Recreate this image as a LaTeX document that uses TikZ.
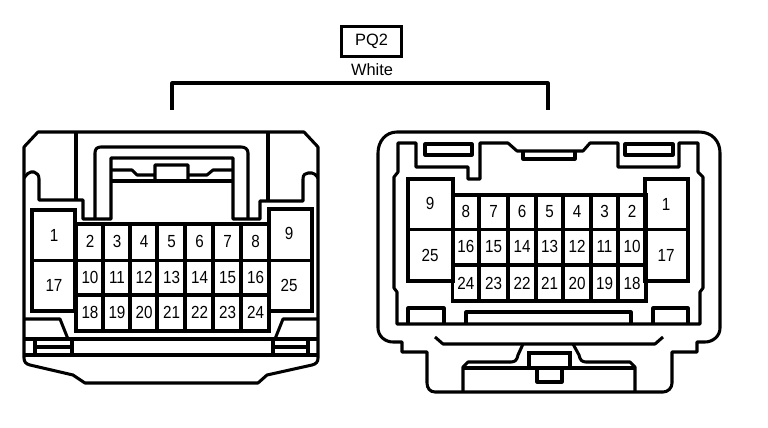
\documentclass[tikz,border=0pt]{standalone}
\usepackage{fontspec}
\setmainfont{Liberation Sans}
\newcommand{\tallnum}[1]{\scalebox{1}[1.15]{#1}}
\tikzset{
    wall/.style={line width=2.6pt, line join=round},
    cavity/.style={line width=2.6pt},
    pinnum/.style={font=\fontsize{13}{13}\selectfont, inner sep=0pt, text height=10.8pt, text depth=0.2pt}
}
\begin{document}
\begin{tikzpicture}[x=0.03cm, y=-0.03cm]
    \useasboundingbox (0,0) rectangle (768,428);

    % Title
    \node[draw, line width=2.6pt, minimum width=51pt, minimum height=25.5pt, inner sep=0pt, font=\fontsize{14}{14}\selectfont] (boxPQ) at (371.5,41.5) {PQ2};
    \node[font=\fontsize{14}{14}\selectfont, inner sep=0pt] (lblWhite) at (372,69.5) {White};
    \draw[wall] (172,110) -- (172,83) -- (548,83) -- (548,110);

    % Left connector: outline
    \draw[wall] (38,132) -- (304,132) -- (318,147) -- (318,358) .. controls (318,362) and (316,364) .. (312,365)
        -- (267,375) -- (258,383) -- (85,383) -- (73,375) -- (30,365) .. controls (26,364) and (24,362) .. (24,358) -- (24,147) -- cycle;
    \draw[wall] (24,339) -- (318,339);
    \draw[wall] (24,355) -- (318,355);
    % Left connector: side latches
    \draw[wall] (35,339) -- (35,355) (72,339) -- (72,355) (35,347) -- (72,347);
    \draw[wall] (273,339) -- (273,355) (308,339) -- (308,355) (273,347) -- (308,347);
    \draw[wall] (24,319) -- (60,319) -- (68,339);
    \draw[wall] (318,319) -- (283,319) -- (275,339);
    % Left connector: hood
    \draw[wall] (24,178) .. controls (27,174) and (29,172) .. (31,172) -- (34,172) .. controls (37,173) and (39,175) .. (39,179) -- (39,200) -- (83,200) -- (83,219) -- (111,219) -- (111,158) -- (233,158) -- (233,219) -- (260,219) -- (260,201) -- (303,201) -- (303,179) .. controls (303,175) and (305,173) .. (308,173) -- (312,173) .. controls (314,173) and (316,175) .. (318,178);
    \draw[wall] (76,132) -- (76,200);
    \draw[wall] (268,132) -- (268,201);
    \draw[wall] (95,219) -- (95,153) .. controls (95,149) and (97,147) .. (101,147) -- (241,147) .. controls (245,147) and (248,149) .. (248,153) -- (248,219);
    \draw[wall] (111,170) -- (132,170) -- (137,175) -- (155,175) (155,181) -- (155,165) -- (188,165) -- (188,181);
    \draw[wall] (233,170) -- (213,170) -- (207,175) -- (188,175);
    \draw[wall] (111,181) -- (233,181);

    % Left connector: cavities
    \draw[cavity] (32,210) rectangle (75,260.5) (32,260.5) rectangle (75,311);
    \draw[cavity] (269,209) rectangle (312,260.5) (269,260.5) rectangle (312,311);
    \foreach \xa/\xb/\top/\mid/\low in {76/103/2/10/18,103/130/3/11/19,130/157/4/12/20,157/185/5/13/21,185/213/6/14/22,213/241/7/15/23,241/269/8/16/24} {
        \draw[cavity] (\xa,224) rectangle (\xb,260.5) (\xa,260.5) rectangle (\xb,295) (\xa,295) rectangle (\xb,331);
        \node[pinnum] (L\top) at ({(\xa+\xb)/2+0.5},241) {\tallnum{\top}};
        \node[pinnum] (L\mid) at ({(\xa+\xb)/2+0.5},277) {\tallnum{\mid}};
        \node[pinnum] (L\low) at ({(\xa+\xb)/2+0.5},312.5) {\tallnum{\low}};
    }
    \node[pinnum] (L1) at (54,235) {\tallnum{1}};
    \node[pinnum] (L17) at (54,285) {\tallnum{17}};
    \node[pinnum] (L9) at (289,233) {\tallnum{9}};
    \node[pinnum] (L25) at (289,285) {\tallnum{25}};

    % Right connector: outline
    \draw[wall] (397,132) -- (699,132) .. controls (712,132) and (720,141) .. (720,153) -- (720,328) .. controls (720,336) and (713,342) .. (705,342)
        -- (697,342) -- (697,352) -- (672,352) -- (672,383) .. controls (672,388) and (668,392) .. (663,392) -- (435,392) .. controls (430,392) and (427,388) .. (427,383) -- (427,352) -- (402,352) -- (402,342) -- (393,342) .. controls (385,342) and (378,336) .. (378,328) -- (378,153) .. controls (378,141) and (386,132) .. (397,132) -- cycle;
    % Right connector: inner wall
    \draw[wall] (416,143) -- (398,143) -- (398,172) -- (394,177) -- (394,288) -- (397,292) -- (397,324) -- (700,324) -- (700,292) -- (703,288) -- (703,177) -- (698,172) -- (698,143) -- (679,143) -- (679,167) -- (618,167) -- (618,143) -- (590,143) -- (583,151) -- (517,151) -- (508,143) -- (480,143) -- (480,179) -- (468,179) -- (468,167) -- (416,167) -- cycle;
    \draw[wall] (425,144) rectangle (472,155);
    \draw[wall] (625,144) rectangle (673,155);
    \draw[wall] (523,151) -- (523,159) -- (575,159) -- (575,151);
    % Right connector: bottom details
    \draw[wall] (408,324) -- (408,308) -- (444,308) -- (444,324);
    \draw[wall] (653,324) -- (653,308) -- (688,308) -- (688,324);
    \draw[wall] (466,324) -- (466,312) -- (631,312) -- (631,324);
    \draw[wall] (435,337) -- (443,344) -- (655,344) -- (663,337);
    \draw[wall] (523,344) -- (518,355) .. controls (517,360) and (515,362) .. (511,362) -- (468,362) -- (463,367) -- (463,392);
    \draw[wall] (573,344) -- (579,355) .. controls (580,360) and (582,362) .. (586,362) -- (630,362) -- (635,367) -- (635,392);
    \draw[wall] (463,368) -- (635,368);
    \draw[wall] (527,353) -- (572,353) (529,353) -- (529,368) (570,353) -- (570,368);
    \draw[wall] (537,368) -- (537,382) -- (562,382) -- (562,368);

    % Right connector: cavities
    \draw[cavity] (408,179) rectangle (453,229.5) (408,229.5) rectangle (453,281);
    \draw[cavity] (645,179) rectangle (688,229.5) (645,229.5) rectangle (688,281);
    \foreach \xa/\xb/\top/\mid/\low in {452.5/479/8/16/24,479/508/7/15/23,508/536/6/14/22,536/563/5/13/21,563/591/4/12/20,591/618/3/11/19,618/646/2/10/18} {
        \draw[cavity] (\xa,195) rectangle (\xb,229.5) (\xa,229.5) rectangle (\xb,265) (\xa,265) rectangle (\xb,301);
        \node[pinnum] (R\top) at ({(\xa+\xb)/2},211) {\tallnum{\top}};
        \node[pinnum] (R\mid) at ({(\xa+\xb)/2},246) {\tallnum{\mid}};
        \node[pinnum] (R\low) at ({(\xa+\xb)/2},283) {\tallnum{\low}};
    }
    \node[pinnum] (R9) at (430,203) {\tallnum{9}};
    \node[pinnum] (R25) at (430,255) {\tallnum{25}};
    \node[pinnum] (R1) at (666,204) {\tallnum{1}};
    \node[pinnum] (R17) at (666,255) {\tallnum{17}};
\end{tikzpicture}
\end{document}
